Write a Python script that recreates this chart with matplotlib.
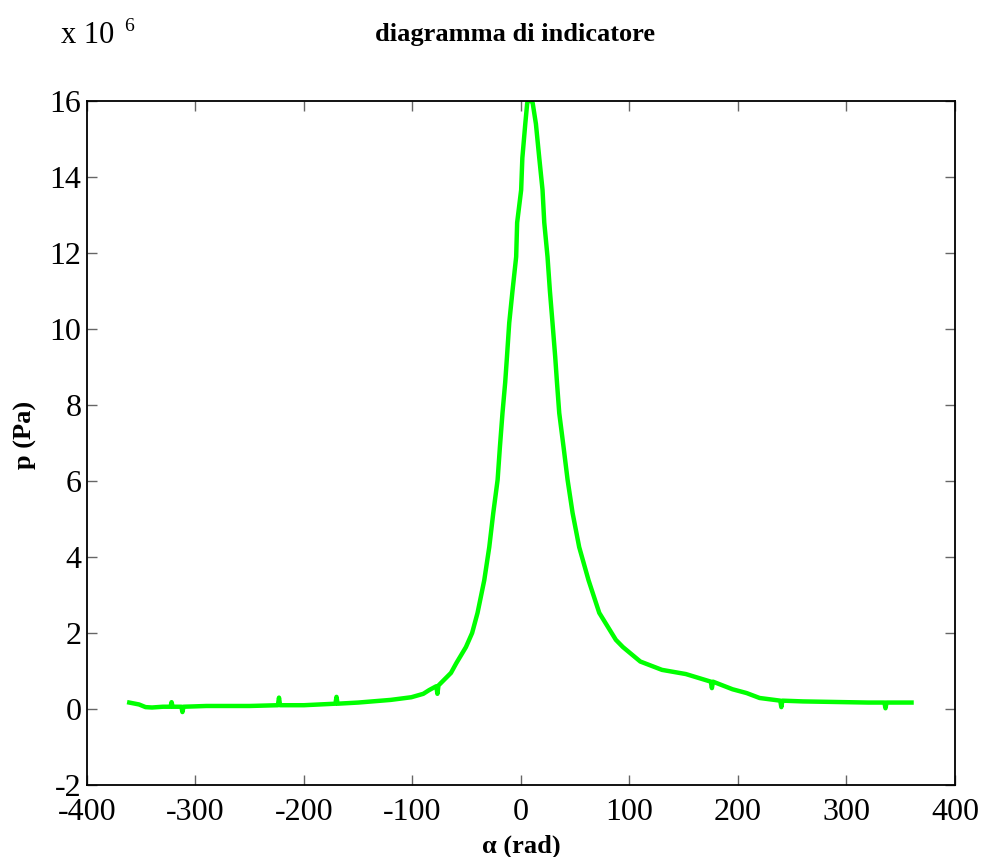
import numpy as np
import matplotlib.pyplot as plt

# crank angle (labelled rad in the original) and pressure (x 1e6 Pa)
alpha = [-361, -352, -346, -340, -330, -323, -322, -321, -313, -312, -311,
         -300, -290, -270, -250, -224, -223, -222, -200, -171, -170, -169,
         -150, -120, -101, -90, -84.5, -78, -77, -76, -64.5, -59.5, -50.7,
         -45, -40, -33.8, -29.2, -25.5, -21.5, -19.4, -17, -14.5, -12.9,
         -10.8, -7.8, -4.4, -3.5, 0.2, 1.3, 4, 5.8, 8, 10.8, 13.8, 16.9,
         19.9, 21.5, 24.5, 26.7, 29.1, 31.6, 33.2, 35.3, 39.3, 43, 47.6,
         53.7, 62.3, 72.2, 87.5, 94, 110, 130, 152, 175, 176, 177, 195, 208,
         220, 239, 240, 241, 260, 280, 300, 320, 335, 336, 337, 360]
pres = [0.17, 0.12, 0.05, 0.04, 0.06, 0.06, 0.18, 0.06, 0.06, -0.08, 0.06,
        0.07, 0.08, 0.08, 0.08, 0.10, 0.30, 0.10, 0.10, 0.14, 0.32, 0.14,
        0.17, 0.24, 0.31, 0.40, 0.50, 0.60, 0.40, 0.62, 0.95, 1.21, 1.63,
        2.00, 2.53, 3.39, 4.26, 5.16, 6.03, 6.89, 7.79, 8.60, 9.26,
        10.16, 11.0, 11.9, 12.8, 13.66, 14.5, 15.4, 15.95, 16.05, 15.95,
        15.4, 14.5, 13.66, 12.8, 11.9, 11.0, 10.16, 9.26, 8.60, 7.79, 6.89,
        6.03, 5.16, 4.26, 3.39, 2.53, 1.82, 1.63, 1.25, 1.03, 0.92, 0.72,
        0.55, 0.72, 0.52, 0.42, 0.29, 0.22, 0.05, 0.22, 0.20, 0.19, 0.18,
        0.17, 0.17, 0.02, 0.17, 0.17]

xticks = [-400, -300, -200, -100, 0, 100, 200, 300, 400]
yticks = [-2, 0, 2, 4, 6, 8, 10, 12, 14, 16]

plt.rcParams['font.family'] = ['Liberation Serif', 'DejaVu Serif']

fig = plt.figure(figsize=(9.87, 8.57), dpi=100)
ax = fig.add_axes([0.0881, 0.0840, 0.8794, 0.7981])

ax.plot(alpha, pres, color='#00ff00', linewidth=3.2)

ax.set_xlim(-400, 400)
ax.set_ylim(-2, 16)
ax.set_xticks(xticks)
ax.set_yticks(yticks)
ax.set_xticklabels([str(t) for t in xticks], fontsize=23)
ax.set_yticklabels([str(t) for t in yticks], fontsize=23)
ax.tick_params(direction='in', length=7, width=1, color='#666666',
               top=True, right=True)
ax.tick_params(axis='x', pad=9)
ax.tick_params(axis='y', pad=4)
for s in ax.spines.values():
    s.set_linewidth(1.3)

ax.set_xlabel('α (rad)', fontsize=19, fontweight='bold')
ax.set_ylabel('p (Pa)', fontsize=19, fontweight='bold')
ax.xaxis.set_label_coords(0.5, -0.072)
ax.yaxis.set_label_coords(-0.057, 0.512)

fig.text(0.522, 0.960, 'diagramma di indicatore', fontsize=19,
         fontweight='bold', ha='center', va='center')
fig.text(0.062, 0.950, 'x 10', fontsize=22, ha='left', va='baseline')
fig.text(0.126, 0.964, '6', fontsize=14, ha='left', va='baseline')

fig.savefig('out.png', dpi=100)
